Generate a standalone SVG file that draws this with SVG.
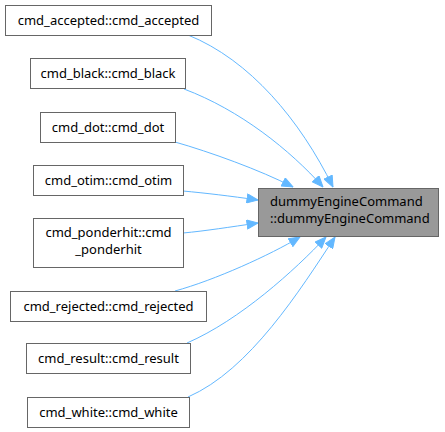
<svg xmlns="http://www.w3.org/2000/svg" width="445" height="432" viewBox="0 0 445 432">
<style>
.n rect{fill:#ffffff;stroke:#666666;stroke-width:1}
.t rect{fill:#999999;stroke:#666666;stroke-width:1}
text{font-family:"Noto Sans","Open Sans","DejaVu Sans",sans-serif;font-size:13px;fill:#000000}
.c{text-anchor:middle}
.e path{fill:none;stroke:#63b8ff;stroke-width:1;marker-end:url(#ah)}
</style>
<defs>
<marker id="ah" markerUnits="userSpaceOnUse" markerWidth="12" markerHeight="10" viewBox="0 0 11 10" refX="11" refY="5" orient="auto">
<path d="M0,0.5 L11,5 L0,9.5 z" fill="#63b8ff" stroke="#63b8ff" stroke-width="1"/>
</marker>
</defs>
<rect width="445" height="432" fill="#ffffff"/>
<g class="e" id="edges">
<path d="M188,35 C250,60 300,120 333,187"/>
<path d="M184,89 C240,110 290,150 323,187"/>
<path d="M175,142 C210,152 260,170 293,187"/>
<path d="M183,191 C205,193 230,196 258,200"/>
<path d="M183,233 C205,231 230,227 258,223"/>
<path d="M175,291 C215,280 270,255 300,237"/>
<path d="M187,343 C240,320 295,270 326,237"/>
<path d="M188,397 C250,370 300,290 335,237"/>
</g>
<g class="t" id="target">
<rect x="258.500" y="188.500" width="180" height="48"/>
<text x="270" y="206">dummyEngineCommand</text>
<text x="270" y="223">::dummyEngineCommand</text>
</g>
<g class="n" id="accepted">
<rect x="5.500" y="5.500" width="206" height="30"/>
<text class="c" x="108.500" y="25">cmd_accepted::cmd_accepted</text>
</g>
<g class="n" id="black">
<rect x="30.500" y="58.500" width="155" height="30"/>
<text class="c" x="108" y="78">cmd_black::cmd_black</text>
</g>
<g class="n" id="dot">
<rect x="40.500" y="112.500" width="135" height="30"/>
<text class="c" x="108" y="132">cmd_dot::cmd_dot</text>
</g>
<g class="n" id="otim">
<rect x="33.500" y="165.500" width="150" height="30"/>
<text class="c" x="108.500" y="185">cmd_otim::cmd_otim</text>
</g>
<g class="n" id="ponderhit">
<rect x="33.500" y="218.500" width="150" height="49"/>
<text class="c" x="108.500" y="237">cmd_ponderhit::cmd</text>
<text class="c" x="108.500" y="254">_ponderhit</text>
</g>
<g class="n" id="rejected">
<rect x="10.500" y="291.500" width="196" height="30"/>
<text class="c" x="108.500" y="311">cmd_rejected::cmd_rejected</text>
</g>
<g class="n" id="result">
<rect x="26.500" y="343.500" width="164" height="30"/>
<text class="c" x="108.500" y="363">cmd_result::cmd_result</text>
</g>
<g class="n" id="white">
<rect x="27.500" y="397.500" width="162" height="30"/>
<text class="c" x="108.500" y="417">cmd_white::cmd_white</text>
</g>
</svg>
